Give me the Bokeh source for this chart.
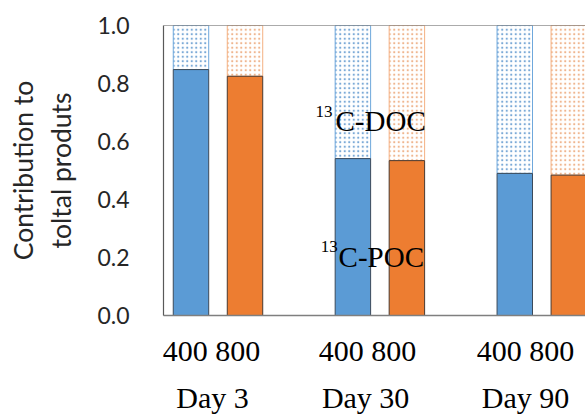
from bokeh.plotting import figure
from bokeh.models import Label, Span, FixedTicker, Range1d, ColumnDataSource, LinearAxis, CustomJSTickFormatter
from bokeh.embed import file_html
from bokeh.resources import INLINE

days = ["Day 3", "Day 30", "Day 90"]
doses = ["400", "800"]
poc_400 = [0.848, 0.541, 0.490]
poc_800 = [0.825, 0.534, 0.484]
total_400 = [1.0, 1.0, 1.0]
total_800 = [1.0, 1.0, 1.0]
yticks = [0.0, 0.2, 0.4, 0.6, 0.8, 1.0]
y_title = "Contribution to\ntoltal produts"

blue = "#5b9bd5"
orange = "#ed7d31"
blue_light = "#6fa8dc"
orange_light = "#f4b183"

p = figure(width=585, height=416, output_backend="svg", toolbar_location=None,
           x_range=Range1d(-0.3366, 2.270), y_range=Range1d(0, 1.0),
           min_border_left=163, min_border_right=0, min_border_top=25, min_border_bottom=99)
p.outline_line_color = None
p.grid.grid_line_color = None
p.background_fill_color = "white"
p.border_fill_color = "white"

gx = list(range(len(days)))
off = 0.1668
bw = 0.219
x400 = [g - off for g in gx]
x800 = [g + off for g in gx]

src400 = ColumnDataSource(dict(x=x400, poc=poc_400, tot=total_400))
src800 = ColumnDataSource(dict(x=x800, poc=poc_800, tot=total_800))

# DOC (upper, dotted)
p.vbar(x="x", width=bw, bottom="poc", top="tot", source=src400, fill_color="white",
       line_color=blue_light, line_width=1, hatch_pattern="dot", hatch_color="#7aa9d6",
       hatch_scale=4.5, hatch_weight=2, hatch_alpha=1.0)
p.vbar(x="x", width=bw, bottom="poc", top="tot", source=src800, fill_color="white",
       line_color=orange_light, line_width=1, hatch_pattern="dot", hatch_color="#efb58e",
       hatch_scale=4.5, hatch_weight=2, hatch_alpha=1.0)
# POC (lower, solid)
p.vbar(x="x", width=bw, bottom=0, top="poc", source=src400, fill_color=blue,
       line_color="#3b4a5a", line_width=1)
p.vbar(x="x", width=bw, bottom=0, top="poc", source=src800, fill_color=orange,
       line_color="#4a3a30", line_width=1)

# top frame line
p.add_layout(Span(location=1.0, dimension="width", line_color="#595959", line_width=1.2))

# x axis 1: dose labels
dose_x = [-0.04, 0.924, 1.90]
day_x = [-0.034, 0.912, 1.90]
ax1 = p.xaxis[0]
ax1.ticker = FixedTicker(ticks=dose_x)
ax1.major_label_overrides = {dose_x[i]: " ".join(doses) for i in range(len(days))}
ax1.axis_line_color = "#7f7f7f"
ax1.axis_line_width = 1.5
ax1.major_tick_line_color = None
ax1.minor_tick_line_color = None
ax1.major_tick_out = 0
ax1.major_label_standoff = 18
ax1.major_label_text_font = "Liberation Serif"
ax1.major_label_text_font_size = "30px"
ax1.major_label_text_color = "black"

# x axis 2: day labels
ax2 = LinearAxis(ticker=FixedTicker(ticks=day_x),
                 major_label_overrides={day_x[i]: days[i] for i in range(len(days))})
ax2.axis_line_color = None
ax2.major_tick_line_color = None
ax2.minor_tick_line_color = None
ax2.major_tick_out = 0
ax2.major_label_standoff = 11
ax2.major_label_text_font = "Liberation Serif"
ax2.major_label_text_font_size = "30px"
ax2.major_label_text_color = "black"
p.add_layout(ax2, "below")

# y axis
p.yaxis.ticker = FixedTicker(ticks=yticks)
p.yaxis.formatter = CustomJSTickFormatter(code="return tick.toFixed(1);")
p.yaxis.axis_line_color = "#595959"
p.yaxis.axis_line_width = 1.2
p.yaxis.major_tick_line_color = None
p.yaxis.minor_tick_line_color = None
p.yaxis.major_tick_out = 0
p.yaxis.major_label_standoff = 34
p.yaxis.major_label_text_font = "Lato"
p.yaxis.major_label_text_font_size = "23px"
p.yaxis.major_label_text_color = "#262626"
p.yaxis.axis_label = y_title
p.yaxis.axis_label_text_font = "Lato"
p.yaxis.axis_label_text_font_size = "26.5px"
p.yaxis.axis_label_text_font_style = "normal"
p.yaxis.axis_label_text_color = "#262626"
p.yaxis.axis_label_standoff = 17

# annotations
for main, yb, xs, xm in [("C-DOC", 0.669, 0.603, 0.726), ("C-POC", 0.203, 0.634, 0.745)]:
    p.add_layout(Label(x=xs, y=yb + 0.035, text="13", text_baseline="alphabetic",
                       text_font="Liberation Serif", text_font_size="17px", text_color="black"))
    p.add_layout(Label(x=xm, y=yb, text=main, text_baseline="alphabetic",
                       text_font="Liberation Serif", text_font_size="29px", text_color="black"))

open("out.html", "w").write(file_html(p, INLINE))
